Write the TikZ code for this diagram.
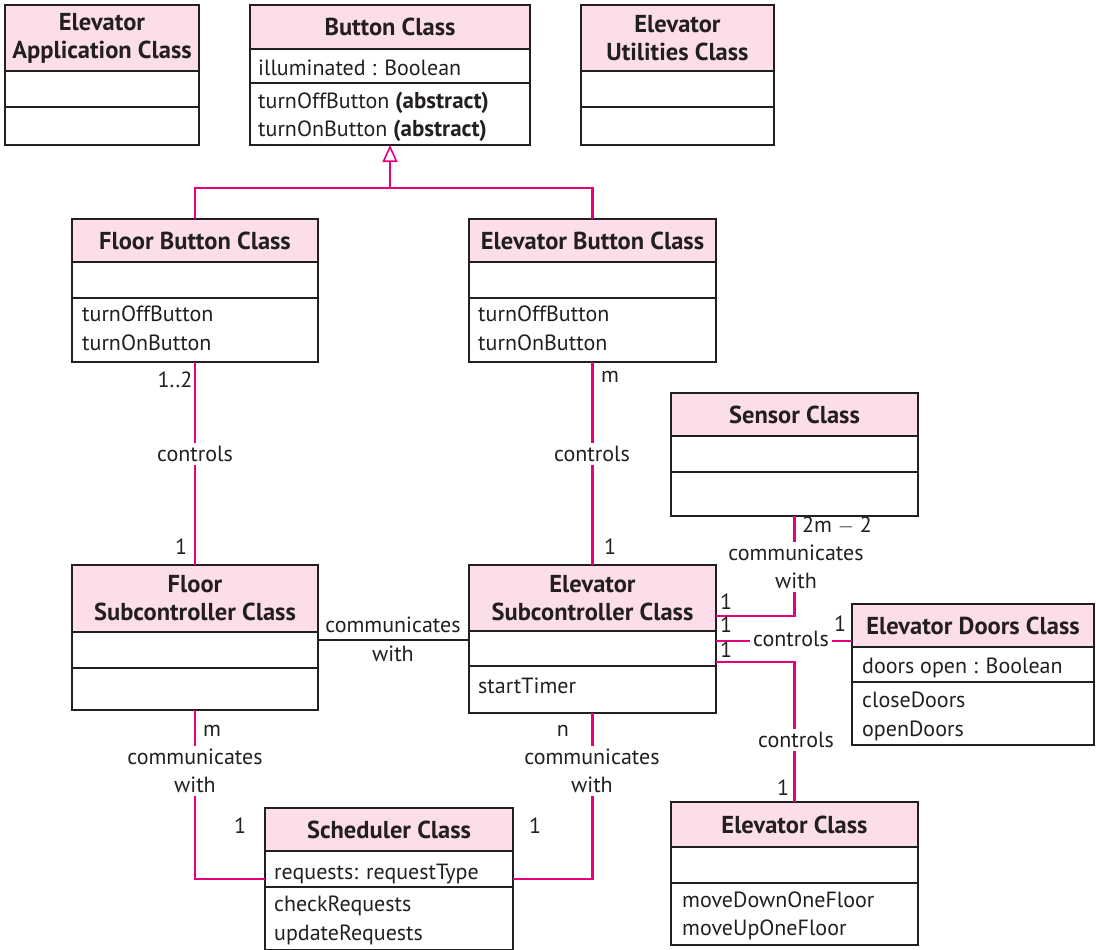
\documentclass[tikz,border=0pt]{standalone}
\usepackage{fontspec}
\setmainfont{PT Sans}
\usetikzlibrary{arrows.meta}
\definecolor{hdrpink}{RGB}{252,222,234}
\definecolor{mag}{RGB}{230,0,126}
\definecolor{ink}{RGB}{35,31,32}
\tikzset{
  clsbox/.style={draw=ink, line width=1.6pt, inner sep=0pt, outer sep=0pt, rectangle},
  divline/.style={draw=ink, line width=1.6pt},
  hdrtext/.style={font=\fontsize{24.5}{28}\selectfont\bfseries, align=center, text=ink, inner sep=0pt},
  txt/.style={font=\fontsize{22}{28}\selectfont, text=ink, inner sep=0pt, anchor=west, text height=19pt, text depth=4pt},
  assoc/.style={draw=mag, line width=2.8pt},
  lbl/.style={font=\fontsize{22}{28}\selectfont, text=ink, inner sep=0pt, text height=15pt, text depth=5pt},
  gap/.style={font=\fontsize{22}{28}\selectfont, text=ink, fill=white, align=center, inner sep=3pt},
  plainline/.style={draw=ink, line width=1.2pt},
}
\newcommand{\bfabs}{{\fontsize{23}{28}\selectfont\bfseries (abstract)}}
\newcommand{\umlcls}[8]{%
  \fill[hdrpink] (#2,#3) rectangle (#4,#6);
  \draw[divline] (#2,#6) -- (#4,#6);
  \draw[divline] (#2,#7) -- (#4,#7);
  \node[clsbox, anchor=north west, minimum width=#4pt-#2pt, minimum height=#5pt-#3pt] (#1) at (#2,#3) {};
  \node[hdrtext] (#1-h) at ({(#2+#4)/2},{(#3+#6)/2}) {#8};
}
\begin{document}
\begin{tikzpicture}[x=1pt,y=-1pt]
\useasboundingbox (0,0) rectangle (1096,950);

% classes
\umlcls{ea}{5}{5}{199}{145}{71}{107}{Elevator\\Application Class}
\umlcls{bc}{250}{5}{530}{145}{49}{83}{Button Class}
\umlcls{eu}{581}{5}{774}{145}{71}{107}{Elevator\\Utilities Class}
\umlcls{fb}{72}{219}{318}{362}{262}{298}{Floor Button Class}
\umlcls{eb}{469}{219}{716}{362}{262}{298}{Elevator Button Class}
\umlcls{sn}{671}{393}{918}{516}{436}{472}{Sensor Class}
\umlcls{fs}{72}{565}{318}{710}{632}{668}{Floor\\Subcontroller Class}
\umlcls{es}{469}{565}{716}{713}{631}{666}{Elevator\\Subcontroller Class}
\umlcls{ed}{852}{604}{1094}{745}{647}{682}{Elevator Doors Class}
\umlcls{el}{671}{802}{918}{945}{847}{883}{Elevator Class}
\umlcls{sc}{265}{808}{513}{950}{851}{887}{Scheduler Class}

% class contents
\node[txt] (bc1) at (258,68) {illuminated : Boolean};
\node[txt] (bc2) at (258,101) {turnOffButton \bfabs};
\node[txt] (bc3) at (258,129) {turnOnButton \bfabs};
\node[txt] (fb1) at (82,314) {turnOffButton};
\node[txt] (fb2) at (82,343) {turnOnButton};
\node[txt] (eb1) at (478,314) {turnOffButton};
\node[txt] (eb2) at (478,343) {turnOnButton};
\node[txt] (es1) at (478,686) {startTimer};
\node[txt] (ed1) at (862,666) {doors open : Boolean};
\node[txt] (ed2) at (862,700) {closeDoors};
\node[txt] (ed3) at (862,729) {openDoors};
\node[txt] (el1) at (682,900) {moveDownOneFloor};
\node[txt] (el2) at (682,928) {moveUpOneFloor};
\node[txt] (sc1) at (274,872) {requests: requestType};
\node[txt] (sc2) at (274,904) {checkRequests};
\node[txt] (sc3) at (274,933) {updateRequests};

% generalization
\coordinate (gj) at (390,188);
\draw[assoc] (fb.north) |- (gj) -| (eb.north);
\draw[assoc, -{Triangle[open, length=17pt, width=15pt, line width=1.6pt]}] (gj) -- (bc.south);

% associations
\draw[assoc] (fb.south) -- (fs.north);
\draw[assoc] (eb.south) -- (es.north);
\draw[assoc] (sn.south) |- ([yshift=-51pt]es.north east);
\draw[assoc] ([yshift=-76pt]es.north east) -- ([yshift=-76pt]es.north east -| ed.west);
\draw[assoc] ([yshift=-97pt]es.north east) -| (el.north);
\draw[assoc] (fs.south) |- (sc.west);
\draw[assoc] (es.south) |- (sc.east);
\draw[plainline] ([yshift=-75pt]fs.north east) -- ([yshift=-75pt]fs.north east -| es.west);

% labels on lines
\node[gap] (g1) at (195,454) {controls};
\node[gap] (g2) at (592,454) {controls};
\node[gap] (g3) at (791,639) {controls};
\node[gap] (g4) at (796,740) {controls};
\node[gap] (g5) at (796,567) {communicates\\with};
\node[gap] (g6) at (195,771) {communicates\\with};
\node[gap] (g7) at (592,771) {communicates\\with};
\node[lbl] (c1) at (393,627) {communicates};
\node[lbl] (c2) at (393,656) {with};

% multiplicities
\node[lbl] (m1) at (175,382) {1..2};
\node[lbl] (m2) at (181,549) {1};
\node[lbl] (m3) at (610,377) {m};
\node[lbl] (m4) at (610,549) {1};
\node[lbl] (m5) at (837,527) {2m $-$ 2};
\node[lbl] (m6) at (726,604) {1};
\node[lbl] (m7) at (726,627) {1};
\node[lbl] (m8) at (840,626) {1};
\node[lbl] (m9) at (726,652) {1};
\node[lbl] (m10) at (783,790) {1};
\node[lbl] (m11) at (212,731) {m};
\node[lbl] (m12) at (240,828) {1};
\node[lbl] (m13) at (563,731) {n};
\node[lbl] (m14) at (535,828) {1};
\end{tikzpicture}
\end{document}
